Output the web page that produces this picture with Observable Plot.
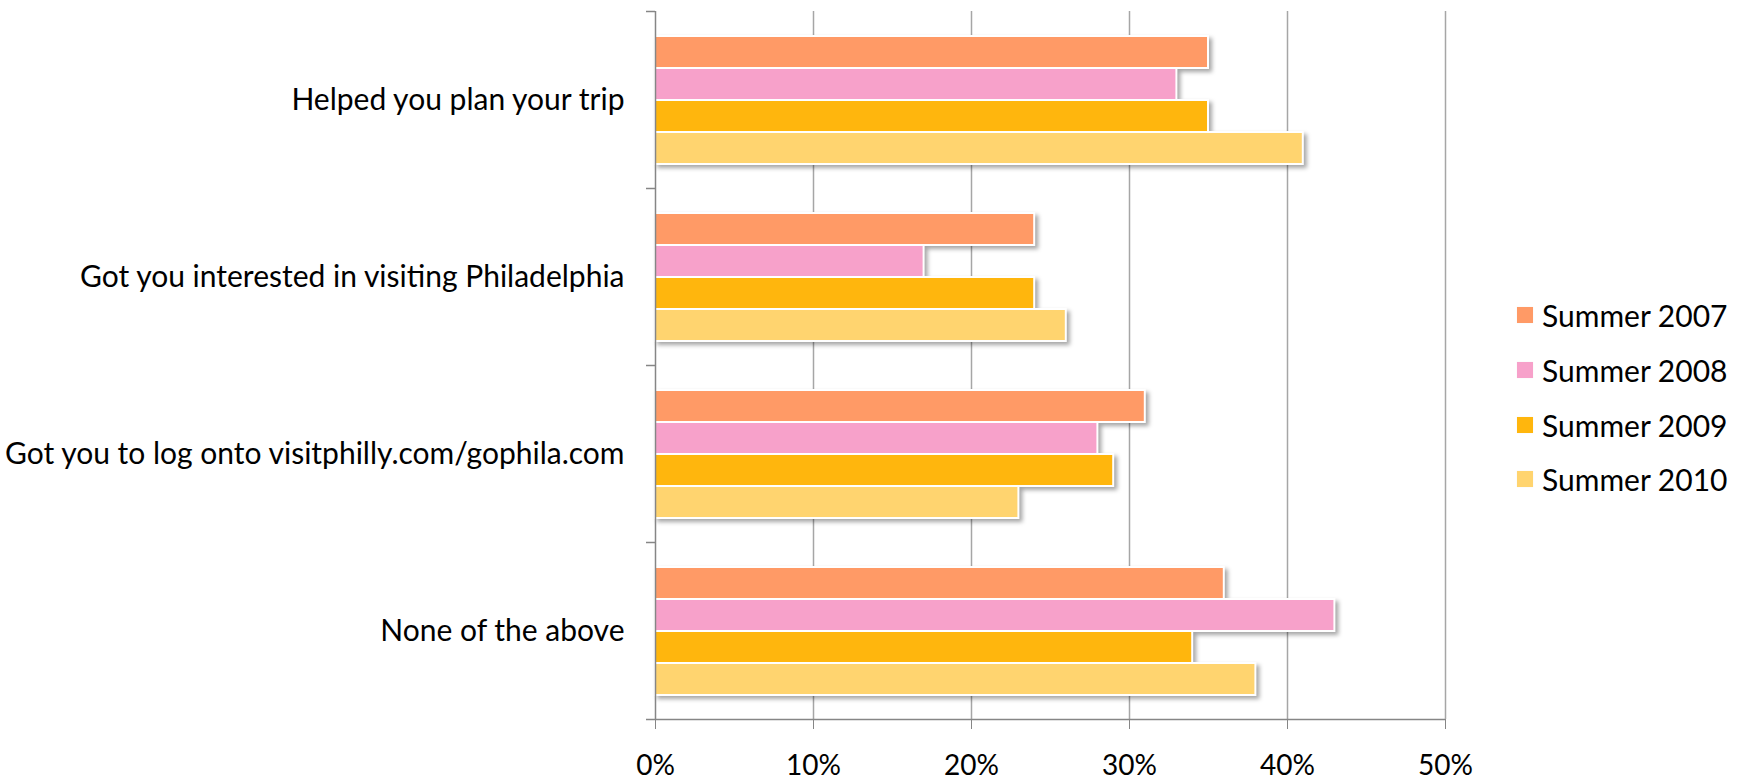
<!DOCTYPE html>
<html><head><meta charset="utf-8">
<script src="https://cdn.jsdelivr.net/npm/d3@7"></script>
<script src="https://cdn.jsdelivr.net/npm/@observablehq/plot@0.6"></script>
<style>
html,body{margin:0;padding:0;background:#fff;}
#wrap{position:relative;width:1738px;height:783px;overflow:hidden;font-family:Lato,sans-serif;}
#legend{position:absolute;left:1517px;top:288px;}
.lrow{display:flex;align-items:center;height:54.7px;font-size:30px;color:#000;white-space:nowrap;}
.lsw{width:16px;height:16px;margin-right:9px;box-shadow:0 0 1px rgba(0,0,0,0.08);}
</style></head><body><div id="wrap"></div>
<script>
const categories = ["Helped you plan your trip", "Got you interested in visiting Philadelphia", "Got you to log onto visitphilly.com/gophila.com", "None of the above"];
const seriesNames = ["Summer 2007", "Summer 2008", "Summer 2009", "Summer 2010"];
const colors = ["#FF9A66", "#F7A1CA", "#FFB60D", "#FFD46F"];
const v2007 = [35, 24, 31, 36];
const v2008 = [33, 17, 28, 43];
const v2009 = [35, 24, 29, 34];
const v2010 = [41, 26, 23, 38];
const xTicks = [0, 10, 20, 30, 40, 50];

const seriesValues = [v2007, v2008, v2009, v2010];
const data = [];
categories.forEach((c, i) => seriesNames.forEach((s, j) => data.push({category: c, series: s, value: seriesValues[j][i]})));

const axisColor = "#868686", gridColor = "#a6a6a6";

function build(extra) {
  return Plot.plot({
    width: 1738, height: 783,
    marginTop: 9, marginBottom: 63, marginLeft: 655, marginRight: 293,
    style: {fontFamily: "Lato, sans-serif", fontSize: "30px", color: "#000", background: "#fff", overflow: "visible"},
    x: {domain: [0, 50]},
    y: {domain: seriesNames, paddingInner: 0, paddingOuter: 0.76, axis: null},
    fy: {domain: categories, padding: 0},
    color: {domain: seriesNames, range: colors},
    marks: [
      Plot.gridX({ticks: xTicks.filter(d => d > 0), stroke: gridColor, strokeOpacity: 1, strokeWidth: 1.5}),
      Plot.barX(data, {fy: "category", y: "series", x: "value", fill: "series", stroke: "#fff", strokeWidth: 2}),
      Plot.ruleX([0], {stroke: axisColor, strokeWidth: 1.5}),
      Plot.axisX({ticks: xTicks, tickFormat: d => d + "%", tickSize: 10, tickPadding: 26, fontSize: 28, stroke: axisColor, fill: "#000", label: null}),
      Plot.axisFy({anchor: "left", tickSize: 0, tickPadding: 31, fontSize: 30, fill: "#000", label: null}),
      ...extra
    ]
  });
}

const first = build([]);
const ys = first.scale("y");
const bw = ys.bandwidth;
const r0 = Math.min(...ys.range), r1 = Math.max(...ys.range);
const dyTop = -(ys.apply(seriesNames[0]) + bw / 2 - r0);
const dyBot = r1 - (ys.apply(seriesNames[seriesNames.length - 1]) + bw / 2);

const chart = build([
  Plot.ruleY(categories, {fy: d => d, y: () => seriesNames[0], x1: 0, x2: 0, insetLeft: -9, dy: dyTop, stroke: axisColor, strokeWidth: 1.5}),
  Plot.ruleY([categories[categories.length - 1]], {fy: d => d, y: () => seriesNames[seriesNames.length - 1], x1: 0, x2: 50, insetLeft: -9, dy: dyBot, stroke: axisColor, strokeWidth: 1.5})
]);
chart.querySelectorAll('g[aria-label="bar"]').forEach(g => { g.style.filter = "drop-shadow(3px 3px 2px rgba(0,0,0,0.35))"; });

const wrap = document.getElementById("wrap");
wrap.appendChild(chart);
const legend = document.createElement("div");
legend.id = "legend";
seriesNames.forEach((s, i) => {
  const row = document.createElement("div");
  row.className = "lrow";
  const sw = document.createElement("span");
  sw.className = "lsw";
  sw.style.background = colors[i];
  const t = document.createElement("span");
  t.textContent = s;
  row.appendChild(sw); row.appendChild(t);
  legend.appendChild(row);
});
wrap.appendChild(legend);
</script>
</body></html>
